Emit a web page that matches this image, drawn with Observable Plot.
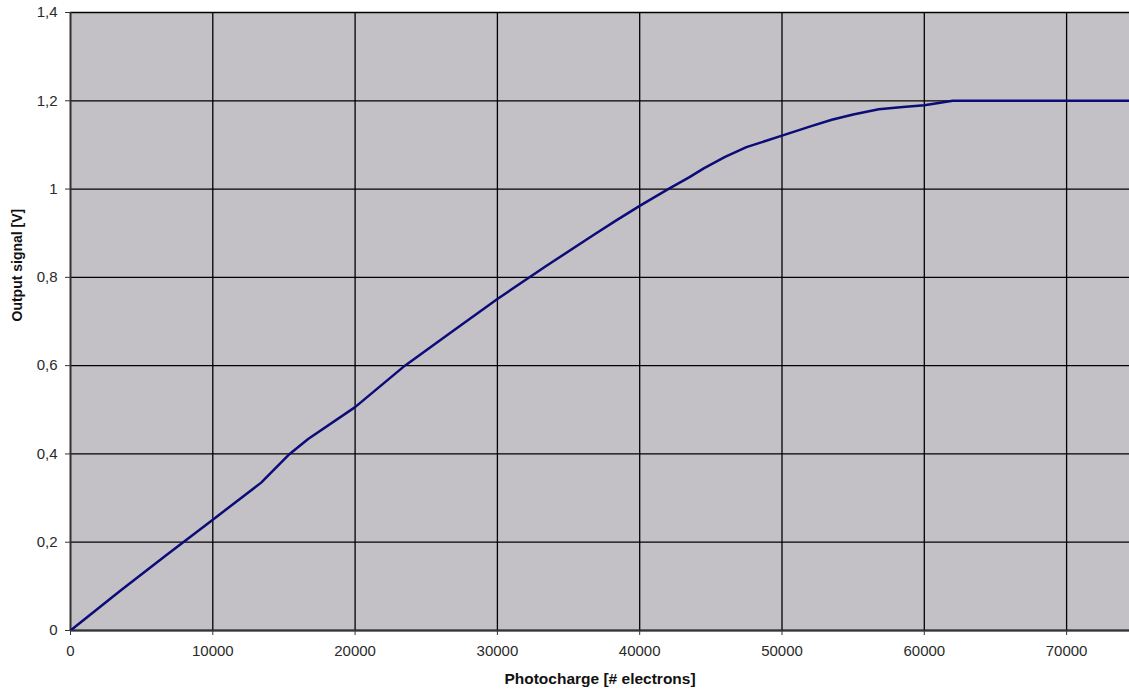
<!DOCTYPE html>
<html>
<head>
<meta charset="utf-8">
<script src="https://cdn.jsdelivr.net/npm/d3@7"></script>
<script src="https://cdn.jsdelivr.net/npm/@observablehq/plot@0.6"></script>
<style>
  html, body { margin: 0; padding: 0; background: #fff; }
  #chart svg { display: block; }
</style>
</head>
<body>
<div id="chart"></div>
<script>
// Data
const electrons = [0, 3500, 6700, 10000, 13400, 15400, 16700, 20000, 23500, 26800, 30000, 33400, 36700, 38300, 40000, 42000, 43500, 44500, 46000, 47500, 50000, 52000, 53500, 55000, 56800, 58500, 60000, 61000, 62000, 68000, 75000];
const volts     = [0, 0.09, 0.17, 0.251, 0.335, 0.40, 0.434, 0.506, 0.60, 0.677, 0.751, 0.825, 0.895, 0.928, 0.962, 1.0, 1.027, 1.047, 1.073, 1.095, 1.121, 1.142, 1.157, 1.169, 1.181, 1.186, 1.19, 1.195, 1.2, 1.2, 1.2];
const xTicks = [0, 10000, 20000, 30000, 40000, 50000, 60000, 70000];
const yTicks = [0, 0.2, 0.4, 0.6, 0.8, 1.0, 1.2, 1.4];
const xTitle = "Photocharge [# electrons]";
const yTitle = "Output signal [V]";

const data = electrons.map((x, i) => ({x, y: volts[i]}));

const chart = Plot.plot({
  width: 1129,
  height: 694,
  marginLeft: 70,
  marginRight: 0,
  marginTop: 12,
  marginBottom: 64,
  style: {fontFamily: "'Liberation Sans', Arial, sans-serif", fontSize: "15px", color: "#2a2a2a", background: "#fff"},
  x: {domain: [0, 74420]},
  y: {domain: [0, 1.4]},
  marks: [
    Plot.frame({fill: "#c4c1c6", stroke: null}),
    Plot.gridX(xTicks, {stroke: "#000", strokeOpacity: 1, strokeWidth: 1.3}),
    Plot.gridY(yTicks, {stroke: "#000", strokeOpacity: 1, strokeWidth: 1.3}),
    Plot.ruleX([0], {stroke: "#333", strokeWidth: 1.8}),
    Plot.ruleY([0], {stroke: "#333", strokeWidth: 1.8}),
    Plot.axisX(xTicks, {tickSize: 5, tickPadding: 10, label: null, tickFormat: d => String(d), stroke: "#333", fontSize: 15}),
    Plot.axisY(yTicks, {tickSize: 5, tickPadding: 8, label: null, tickFormat: d => String(+d.toFixed(1)).replace(".", ","), stroke: "#333", fontSize: 15}),
    Plot.line(data, {x: "x", y: "y", stroke: "#0c0c78", strokeWidth: 2.5, clip: true}),
    Plot.text([xTitle], {frameAnchor: "bottom", dy: 53, text: d => d, fontWeight: "bold", fontSize: 15.5, fill: "#111"}),
    Plot.text([yTitle], {frameAnchor: "left", dx: -52.5, rotate: -90, text: d => d, fontWeight: "bold", fontSize: 14, fill: "#111"})
  ]
});
document.getElementById("chart").appendChild(chart);
</script>
</body>
</html>
